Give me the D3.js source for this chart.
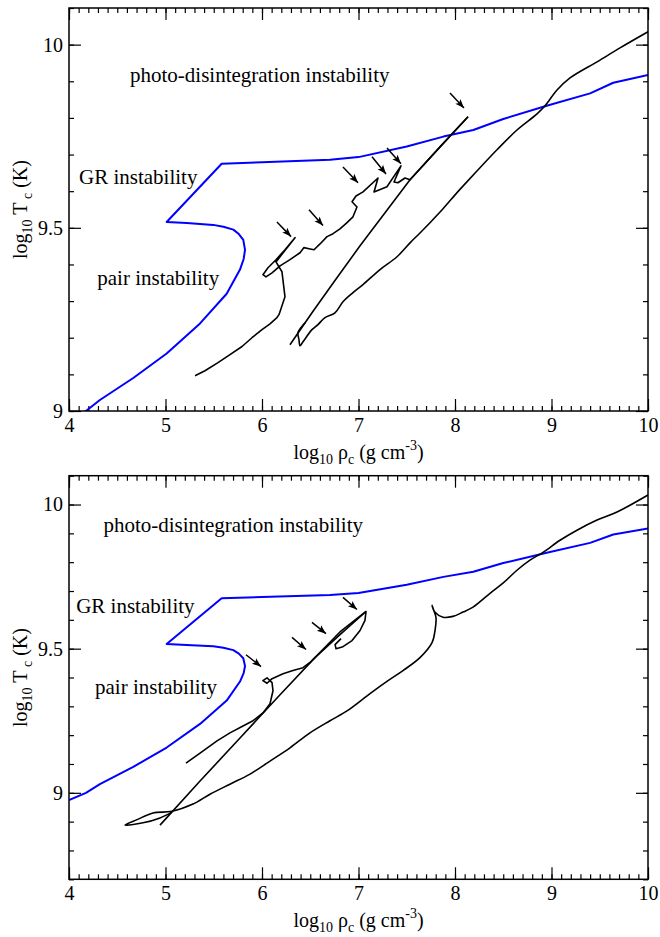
<!DOCTYPE html>
<html>
<head>
<meta charset="utf-8">
<script src="https://cdn.jsdelivr.net/npm/d3@7"></script>
<style>
  body { margin: 0; background: #fff; }
  svg { display: block; }
  text { font-family: "Liberation Serif", "Times New Roman", serif; fill: #000; }
</style>
</head>
<body>
<svg id="chart" width="660" height="937"></svg>
<script>
// tick labels
const xMajorTicks = [4, 5, 6, 7, 8, 9, 10];
const yMajorTicks = [9, 9.5, 10];

// instability boundary (blue), same in both panels: [log rho_c, log T_c]
const boundary = [
  [4.0, 8.975], [4.176, 9.0], [4.32, 9.03], [4.666, 9.09], [5.012, 9.157], [5.358, 9.239],
  [5.634, 9.32], [5.772, 9.386], [5.81, 9.415], [5.824, 9.44], [5.806, 9.467], [5.76, 9.483],
  [5.703, 9.495], [5.6, 9.503], [5.495, 9.508], [5.22, 9.513], [5.012, 9.516], [5.582, 9.675],
  [6.0, 9.679], [6.705, 9.686], [7.0, 9.693], [7.5, 9.722], [7.88, 9.749], [8.19, 9.767],
  [8.5, 9.797], [8.95, 9.833], [9.4, 9.867], [9.64, 9.896], [10.0, 9.917]
];

// top panel tracks
const topTrackA = [
  [5.306, 9.096], [5.409, 9.110], [5.544, 9.132], [5.668, 9.154], [5.793, 9.176], [5.896, 9.200],
  [6.000, 9.222], [6.083, 9.238], [6.155, 9.255], [6.176, 9.263], [6.238, 9.312], [6.207, 9.380],
  [6.145, 9.407], [6.342, 9.473], [6.238, 9.440], [6.145, 9.413], [6.062, 9.391], [6.010, 9.372],
  [6.041, 9.366], [6.104, 9.377], [6.187, 9.396], [6.290, 9.413], [6.394, 9.432], [6.435, 9.446],
  [6.487, 9.443], [6.539, 9.440], [6.601, 9.456], [6.674, 9.476], [6.736, 9.484], [6.808, 9.497],
  [6.881, 9.514], [6.943, 9.530], [6.984, 9.557], [6.933, 9.571], [6.974, 9.587], [7.047, 9.598],
  [7.202, 9.636], [7.161, 9.598], [7.295, 9.612], [7.440, 9.669], [7.368, 9.625], [7.409, 9.623],
  [7.482, 9.636], [7.534, 9.631], [7.845, 9.721], [8.135, 9.803]
];
const topTrackB = [
  [6.290, 9.181], [6.518, 9.268], [6.756, 9.356], [7.016, 9.451], [7.275, 9.541],
  [7.534, 9.631], [7.845, 9.721], [8.135, 9.803]
];
const topTrackC = [
  [6.446, 9.241], [6.373, 9.214], [6.383, 9.195], [6.394, 9.178], [6.425, 9.189], [6.518, 9.222],
  [6.580, 9.236], [6.653, 9.255], [6.756, 9.268], [6.839, 9.298], [6.943, 9.323], [7.047, 9.345],
  [7.223, 9.386], [7.399, 9.421], [7.534, 9.459], [7.637, 9.486], [7.741, 9.514], [7.876, 9.552],
  [8.021, 9.596], [8.104, 9.620], [8.259, 9.664], [8.435, 9.713], [8.642, 9.767], [8.850, 9.811],
  [8.933, 9.833], [9.057, 9.876], [9.192, 9.909], [9.472, 9.953], [9.710, 9.991], [10.0, 10.035]
];
// arrows: [x0, y0, x1, y1]
const topArrows = [
  [6.155, 9.516, 6.301, 9.476], [6.487, 9.549, 6.632, 9.506], [6.839, 9.666, 6.995, 9.623],
  [7.140, 9.694, 7.285, 9.647], [7.295, 9.718, 7.440, 9.675], [7.948, 9.868, 8.093, 9.827]
];

// bottom panel tracks
const bottomTrackD = [
  [5.212, 9.103], [5.358, 9.138], [5.534, 9.180], [5.668, 9.208], [5.803, 9.232], [5.907, 9.250],
  [6.010, 9.277], [6.083, 9.309], [6.114, 9.354], [6.104, 9.382], [6.052, 9.399], [6.010, 9.389],
  [6.052, 9.380], [6.104, 9.396], [6.218, 9.413], [6.321, 9.424], [6.425, 9.434], [6.497, 9.452],
  [6.549, 9.469], [6.808, 9.549], [7.078, 9.629], [7.067, 9.598], [7.016, 9.563], [6.933, 9.528],
  [6.839, 9.507], [6.767, 9.500], [6.757, 9.514], [6.819, 9.535]
];
const bottomTrackE = [
  [4.943, 8.888], [5.358, 9.041], [5.772, 9.190], [6.187, 9.340], [6.549, 9.469],
  [6.808, 9.558], [7.078, 9.629]
];
const bottomTrackF = [
  [5.067, 8.933], [4.943, 8.913], [4.767, 8.896], [4.580, 8.888], [4.705, 8.907], [4.870, 8.930],
  [5.067, 8.936], [5.285, 8.961], [5.461, 8.995], [5.668, 9.030], [5.876, 9.065], [6.083, 9.110],
  [6.290, 9.156], [6.497, 9.208], [6.705, 9.250], [6.881, 9.284], [7.119, 9.344], [7.306, 9.389],
  [7.461, 9.424], [7.637, 9.469], [7.762, 9.521], [7.793, 9.563], [7.803, 9.608], [7.772, 9.639],
  [7.762, 9.650], [7.793, 9.626], [7.876, 9.609], [7.979, 9.612], [8.083, 9.627], [8.187, 9.644],
  [8.363, 9.692], [8.497, 9.727], [8.642, 9.772], [8.777, 9.807], [8.912, 9.834], [9.088, 9.876],
  [9.264, 9.911], [9.472, 9.946], [9.679, 9.974], [10.0, 10.033]
];
const bottomArrows = [
  [5.834, 9.479, 5.990, 9.438], [6.311, 9.539, 6.456, 9.497],
  [6.518, 9.591, 6.663, 9.552], [6.839, 9.678, 6.984, 9.636]
];

// region names
const regionNames = ['photo-disintegration instability', 'GR instability', 'pair instability'];
const topNamePos = [[4.632, 9.899], [4.104, 9.619], [4.293, 9.343]];
const bottomNamePos = [[4.357, 9.905], [4.074, 9.623], [4.27, 9.343]];

const svg = d3.select('#chart');

svg.append('defs').append('marker')
  .attr('id', 'arrow')
  .attr('viewBox', '-10 -5 10 10')
  .attr('refX', 0).attr('refY', 0)
  .attr('markerWidth', 10).attr('markerHeight', 10)
  .attr('markerUnits', 'userSpaceOnUse')
  .attr('orient', 'auto')
  .append('path')
  .attr('d', 'M0,0L-9,-3.5L-7,0L-9,3.5Z')
  .attr('fill', '#000');

function styleAxis(sel) {
  sel.select('.domain').remove();
  sel.selectAll('line').attr('stroke', '#000').attr('stroke-width', 1.2);
  sel.attr('font-family', '"Liberation Serif", "Times New Roman", serif').attr('font-size', 20);
  sel.selectAll('text').attr('fill', '#000');
}

function drawPanel(id, box, yDomain, tracks, smoothTrack, arrows, namePos) {
  const w = box.right - box.left;
  const h = box.bottom - box.top;
  const x = d3.scaleLinear().domain([4, 10]).range([0, w]);
  const y = d3.scaleLinear().domain(yDomain).range([h, 0]);
  const g = svg.append('g').attr('transform', `translate(${box.left},${box.top})`);

  g.append('clipPath').attr('id', id + '-clip')
    .append('rect').attr('width', w).attr('height', h);

  const minorX = d3.range(40, 101).map((d) => d / 10);
  const minorY = d3.range(Math.round(yDomain[0] * 10), Math.round(yDomain[1] * 10) + 1).map((d) => d / 10);

  // ticks point inwards on all four sides
  g.append('g').attr('transform', `translate(0,${h})`)
    .call(d3.axisBottom(x).tickValues(minorX).tickSize(-5).tickSizeOuter(0).tickFormat(''))
    .call(styleAxis);
  g.append('g').attr('transform', `translate(0,${h})`)
    .call(d3.axisBottom(x).tickValues(xMajorTicks).tickSize(-12).tickSizeOuter(0).tickPadding(7).tickFormat((d) => d))
    .call(styleAxis);
  g.append('g')
    .call(d3.axisTop(x).tickValues(minorX).tickSize(-5).tickSizeOuter(0).tickFormat(''))
    .call(styleAxis);
  g.append('g')
    .call(d3.axisTop(x).tickValues(xMajorTicks).tickSize(-12).tickSizeOuter(0).tickFormat(''))
    .call(styleAxis);
  g.append('g')
    .call(d3.axisLeft(y).tickValues(minorY).tickSize(-5).tickSizeOuter(0).tickFormat(''))
    .call(styleAxis);
  g.append('g')
    .call(d3.axisLeft(y).tickValues(yMajorTicks).tickSize(-12).tickSizeOuter(0).tickPadding(6).tickFormat((d) => d))
    .call(styleAxis);
  g.append('g').attr('transform', `translate(${w},0)`)
    .call(d3.axisRight(y).tickValues(minorY).tickSize(-5).tickSizeOuter(0).tickFormat(''))
    .call(styleAxis);
  g.append('g').attr('transform', `translate(${w},0)`)
    .call(d3.axisRight(y).tickValues(yMajorTicks).tickSize(-12).tickSizeOuter(0).tickFormat(''))
    .call(styleAxis);

  const line = d3.line().x((d) => x(d[0])).y((d) => y(d[1]));
  const smooth = d3.line().x((d) => x(d[0])).y((d) => y(d[1])).curve(d3.curveCatmullRom.alpha(0.5));
  const plot = g.append('g').attr('clip-path', `url(#${id}-clip)`);

  plot.append('path').datum(boundary)
    .attr('d', line).attr('fill', 'none')
    .attr('stroke', '#0000ff').attr('stroke-width', 2).attr('stroke-linejoin', 'round');

  plot.selectAll('.track').data(tracks).enter().append('path')
    .attr('class', 'track')
    .attr('d', line).attr('fill', 'none')
    .attr('stroke', '#000').attr('stroke-width', 1.6).attr('stroke-linejoin', 'round');

  plot.append('path').datum(smoothTrack)
    .attr('d', smooth).attr('fill', 'none')
    .attr('stroke', '#000').attr('stroke-width', 1.6).attr('stroke-linejoin', 'round');

  plot.selectAll('.arrow').data(arrows).enter().append('line')
    .attr('class', 'arrow')
    .attr('x1', (d) => x(d[0])).attr('y1', (d) => y(d[1]))
    .attr('x2', (d) => x(d[2])).attr('y2', (d) => y(d[3]))
    .attr('stroke', '#000').attr('stroke-width', 1.5)
    .attr('marker-end', 'url(#arrow)');

  g.selectAll('.region').data(regionNames).enter().append('text')
    .attr('class', 'region')
    .attr('x', (d, i) => x(namePos[i][0]))
    .attr('y', (d, i) => y(namePos[i][1]))
    .attr('font-size', 21)
    .text((d) => d);

  g.append('rect')
    .attr('width', w).attr('height', h)
    .attr('fill', 'none').attr('stroke', '#000').attr('stroke-width', 1.5);

  // axis titles
  const xt = g.append('text')
    .attr('x', w / 2).attr('y', h + 48)
    .attr('text-anchor', 'middle').attr('font-size', 20);
  xt.append('tspan').text('log');
  xt.append('tspan').attr('font-size', 14).attr('dy', 5).text('10');
  xt.append('tspan').attr('dy', -5).text(' ρ');
  xt.append('tspan').attr('font-size', 14).attr('dy', 5).text('c');
  xt.append('tspan').attr('dy', -5).text(' (g cm');
  xt.append('tspan').attr('font-size', 14).attr('dy', -9).text('-3');
  xt.append('tspan').attr('dy', 9).text(')');

  const yt = g.append('text')
    .attr('transform', `translate(${27 - box.left},${h / 2}) rotate(-90)`)
    .attr('text-anchor', 'middle').attr('font-size', 20);
  yt.append('tspan').text('log');
  yt.append('tspan').attr('font-size', 14).attr('dy', 5).text('10');
  yt.append('tspan').attr('dy', -5).text(' T');
  yt.append('tspan').attr('font-size', 14).attr('dy', 5).text(' c');
  yt.append('tspan').attr('dy', -5).text(' (K)');
}

drawPanel('top', { left: 69, right: 648, top: 8, bottom: 411 }, [9, 10.1],
  [topTrackA, topTrackB], topTrackC, topArrows, topNamePos);
drawPanel('bottom', { left: 69, right: 648, top: 475.7, bottom: 879.3 }, [8.7, 10.1],
  [bottomTrackD, bottomTrackE], bottomTrackF, bottomArrows, bottomNamePos);
</script>
</body>
</html>
